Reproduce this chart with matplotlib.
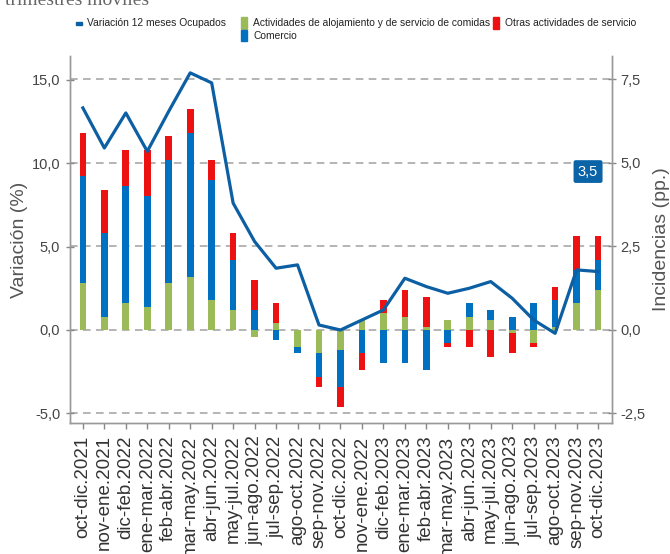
import matplotlib
matplotlib.use("Agg")
import matplotlib.pyplot as plt
from matplotlib.patches import Rectangle
import numpy as np

# datos (incidencias en pp. y variación en %)
periodos = ["oct-dic.2021", "nov-ene.2021", "dic-feb.2022", "ene-mar.2022", "feb-abr.2022",
            "mar-may.2022", "abr-jun.2022", "may-jul.2022", "jun-ago.2022", "jul-sep.2022",
            "ago-oct.2022", "sep-nov.2022", "oct-dic.2022", "nov-ene.2022", "dic-feb.2023",
            "ene-mar.2023", "feb-abr.2023", "mar-may.2023", "abr-jun.2023", "may-jul.2023",
            "jun-ago.2023", "jul-sep.2023", "ago-oct.2023", "sep-nov.2023", "oct-dic.2023"]
alojamiento = [1.4, 0.4, 0.8, 0.7, 1.4, 1.6, 0.9, 0.6, -0.2, 0.2, -0.5, -0.7, -0.6,
               0.3, 0.5, 0.4, 0.1, 0.3, 0.4, 0.3, -0.1, -0.4, 0.1, 0.8, 1.2]
comercio = [3.2, 2.5, 3.5, 3.3, 3.7, 4.3, 3.6, 1.5, 0.6, -0.3, -0.2, -0.7, -1.1,
            -0.7, -1.0, -1.0, -1.2, -0.4, 0.4, 0.3, 0.4, 0.8, 0.8, 1.0, 0.9]
otras = [1.3, 1.3, 1.1, 1.4, 0.7, 0.7, 0.6, 0.8, 0.9, 0.6, 0.0, -0.3, -0.6,
         -0.5, 0.4, 0.8, 0.9, -0.1, -0.5, -0.8, -0.6, -0.1, 0.4, 1.0, 0.7]
variacion = [13.3, 10.9, 13.0, 10.7, 13.1, 15.4, 14.8, 7.6, 5.3, 3.7, 3.9, 0.3, 0.0,
             0.6, 1.2, 3.1, 2.6, 2.2, 2.5, 2.9, 1.9, 0.6, -0.2, 3.6, 3.5]

ticks_var = [-5, 0, 5, 10, 15]
etiquetas_var = ["-5,0", "0,0", "5,0", "10,0", "15,0"]
ticks_inc = [-2.5, 0, 2.5, 5, 7.5]
etiquetas_inc = ["-2,5", "0,0", "2,5", "5,0", "7,5"]

c_linea = "#0C5FA3"
c_aloj = "#9BBB59"
c_com = "#0070C0"
c_otras = "#EE1111"
gris = "#555555"
fuente = ["Liberation Sans", "DejaVu Sans"]

W, H = 670, 554
fig = plt.figure(figsize=(W / 100, H / 100), dpi=100)
ax = fig.add_axes([70 / W, 1 - 423 / H, (612 - 70) / W, (423 - 56) / H])
ax2 = ax.twinx()

x = np.arange(len(periodos))

# barras apiladas con signos mixtos
pos = np.zeros(len(x))
neg = np.zeros(len(x))
for serie, color in [(alojamiento, c_aloj), (comercio, c_com), (otras, c_otras)]:
    v = np.array(serie)
    base = np.where(v >= 0, pos, neg)
    ax2.bar(x, v, 0.31, bottom=base, color=color, zorder=2)
    pos = pos + np.where(v > 0, v, 0)
    neg = neg + np.where(v < 0, v, 0)

ax2.set_ylim(-2.785, 8.2)
ax2.set_yticks(ticks_inc)
ax2.set_yticklabels(etiquetas_inc, family=fuente, fontsize=10.5, color="#444444")
ax2.grid(axis="y", color="#A0A0A0", linestyle=(0, (5, 3.5)), linewidth=1.1)
ax2.set_axisbelow(True)
ax2.set_ylabel("Incidencias (pp.)", fontsize=14, color=gris, rotation=90, family=fuente)
ax2.yaxis.set_label_coords((653 - 70) / 542, 0.5)

ax.plot(x, variacion, color=c_linea, linewidth=2.3, zorder=3)
ax.set_zorder(ax2.get_zorder() + 1)
ax.patch.set_visible(False)
ax.set_ylim(-5.57, 16.41)
ax.set_xlim(-0.6, len(x) - 0.35)
ax.set_yticks(ticks_var)
ax.set_yticklabels(etiquetas_var, family=fuente, fontsize=10.5, color="#444444")
ax.set_xticks(x)
ax.set_xticklabels(periodos, rotation=90, fontsize=13.5, color="#333333", va="top", family=fuente)
ax.set_ylabel("Variación (%)", fontsize=14, color=gris, family=fuente)
ax.yaxis.set_label_coords((28 - 70) / 542, 0.5)

for a in (ax, ax2):
    a.spines["top"].set_visible(False)
    for s in ("left", "right", "bottom"):
        a.spines[s].set_color("#999999")
        a.spines[s].set_linewidth(1.0)
ax.tick_params(axis="y", direction="inout", length=6, width=1, color="#888888", pad=4)
ax2.tick_params(axis="y", direction="inout", length=6, width=1, color="#888888", pad=3)
ax.tick_params(axis="x", direction="out", length=4, width=1, color="#888888", pad=5)

# etiqueta del último dato
ax.annotate(f"{variacion[-1]:.1f}".replace(".", ","), xy=(x[-1], variacion[-1]),
            xytext=(-10, 100), textcoords="offset pixels", ha="center", va="center",
            color="white", fontsize=10.5, family=fuente,
            bbox=dict(boxstyle="round,pad=0.3,rounding_size=0.15", fc="#0B63A8", ec="none"))

# titulo recortado
fig.text(5 / W, 1 - 5 / H, "trimestres móviles", family="Liberation Serif", fontsize=14,
         color="#666666", va="baseline", ha="left")

# leyenda manual
def caja(px, py, w, h, color):
    fig.add_artist(Rectangle((px / W, 1 - (py + h) / H), w / W, h / H,
                             transform=fig.transFigure, color=color))

def texto(px, py, s):
    fig.text(px / W, 1 - py / H, s, family=fuente, fontsize=7.4, color="#222222",
             va="center", ha="left")

caja(76, 22, 6, 3, c_linea)
texto(87, 23, "Variación 12 meses Ocupados")
caja(241, 17, 6, 12, c_aloj)
texto(253, 23, "Actividades de alojamiento y de servicio de comidas")
caja(241, 30, 6, 11, c_com)
texto(253, 36, "Comercio")
caja(493, 17, 6, 12, c_otras)
texto(505, 23, "Otras actividades de servicio")

fig.savefig("out.png", dpi=100)
